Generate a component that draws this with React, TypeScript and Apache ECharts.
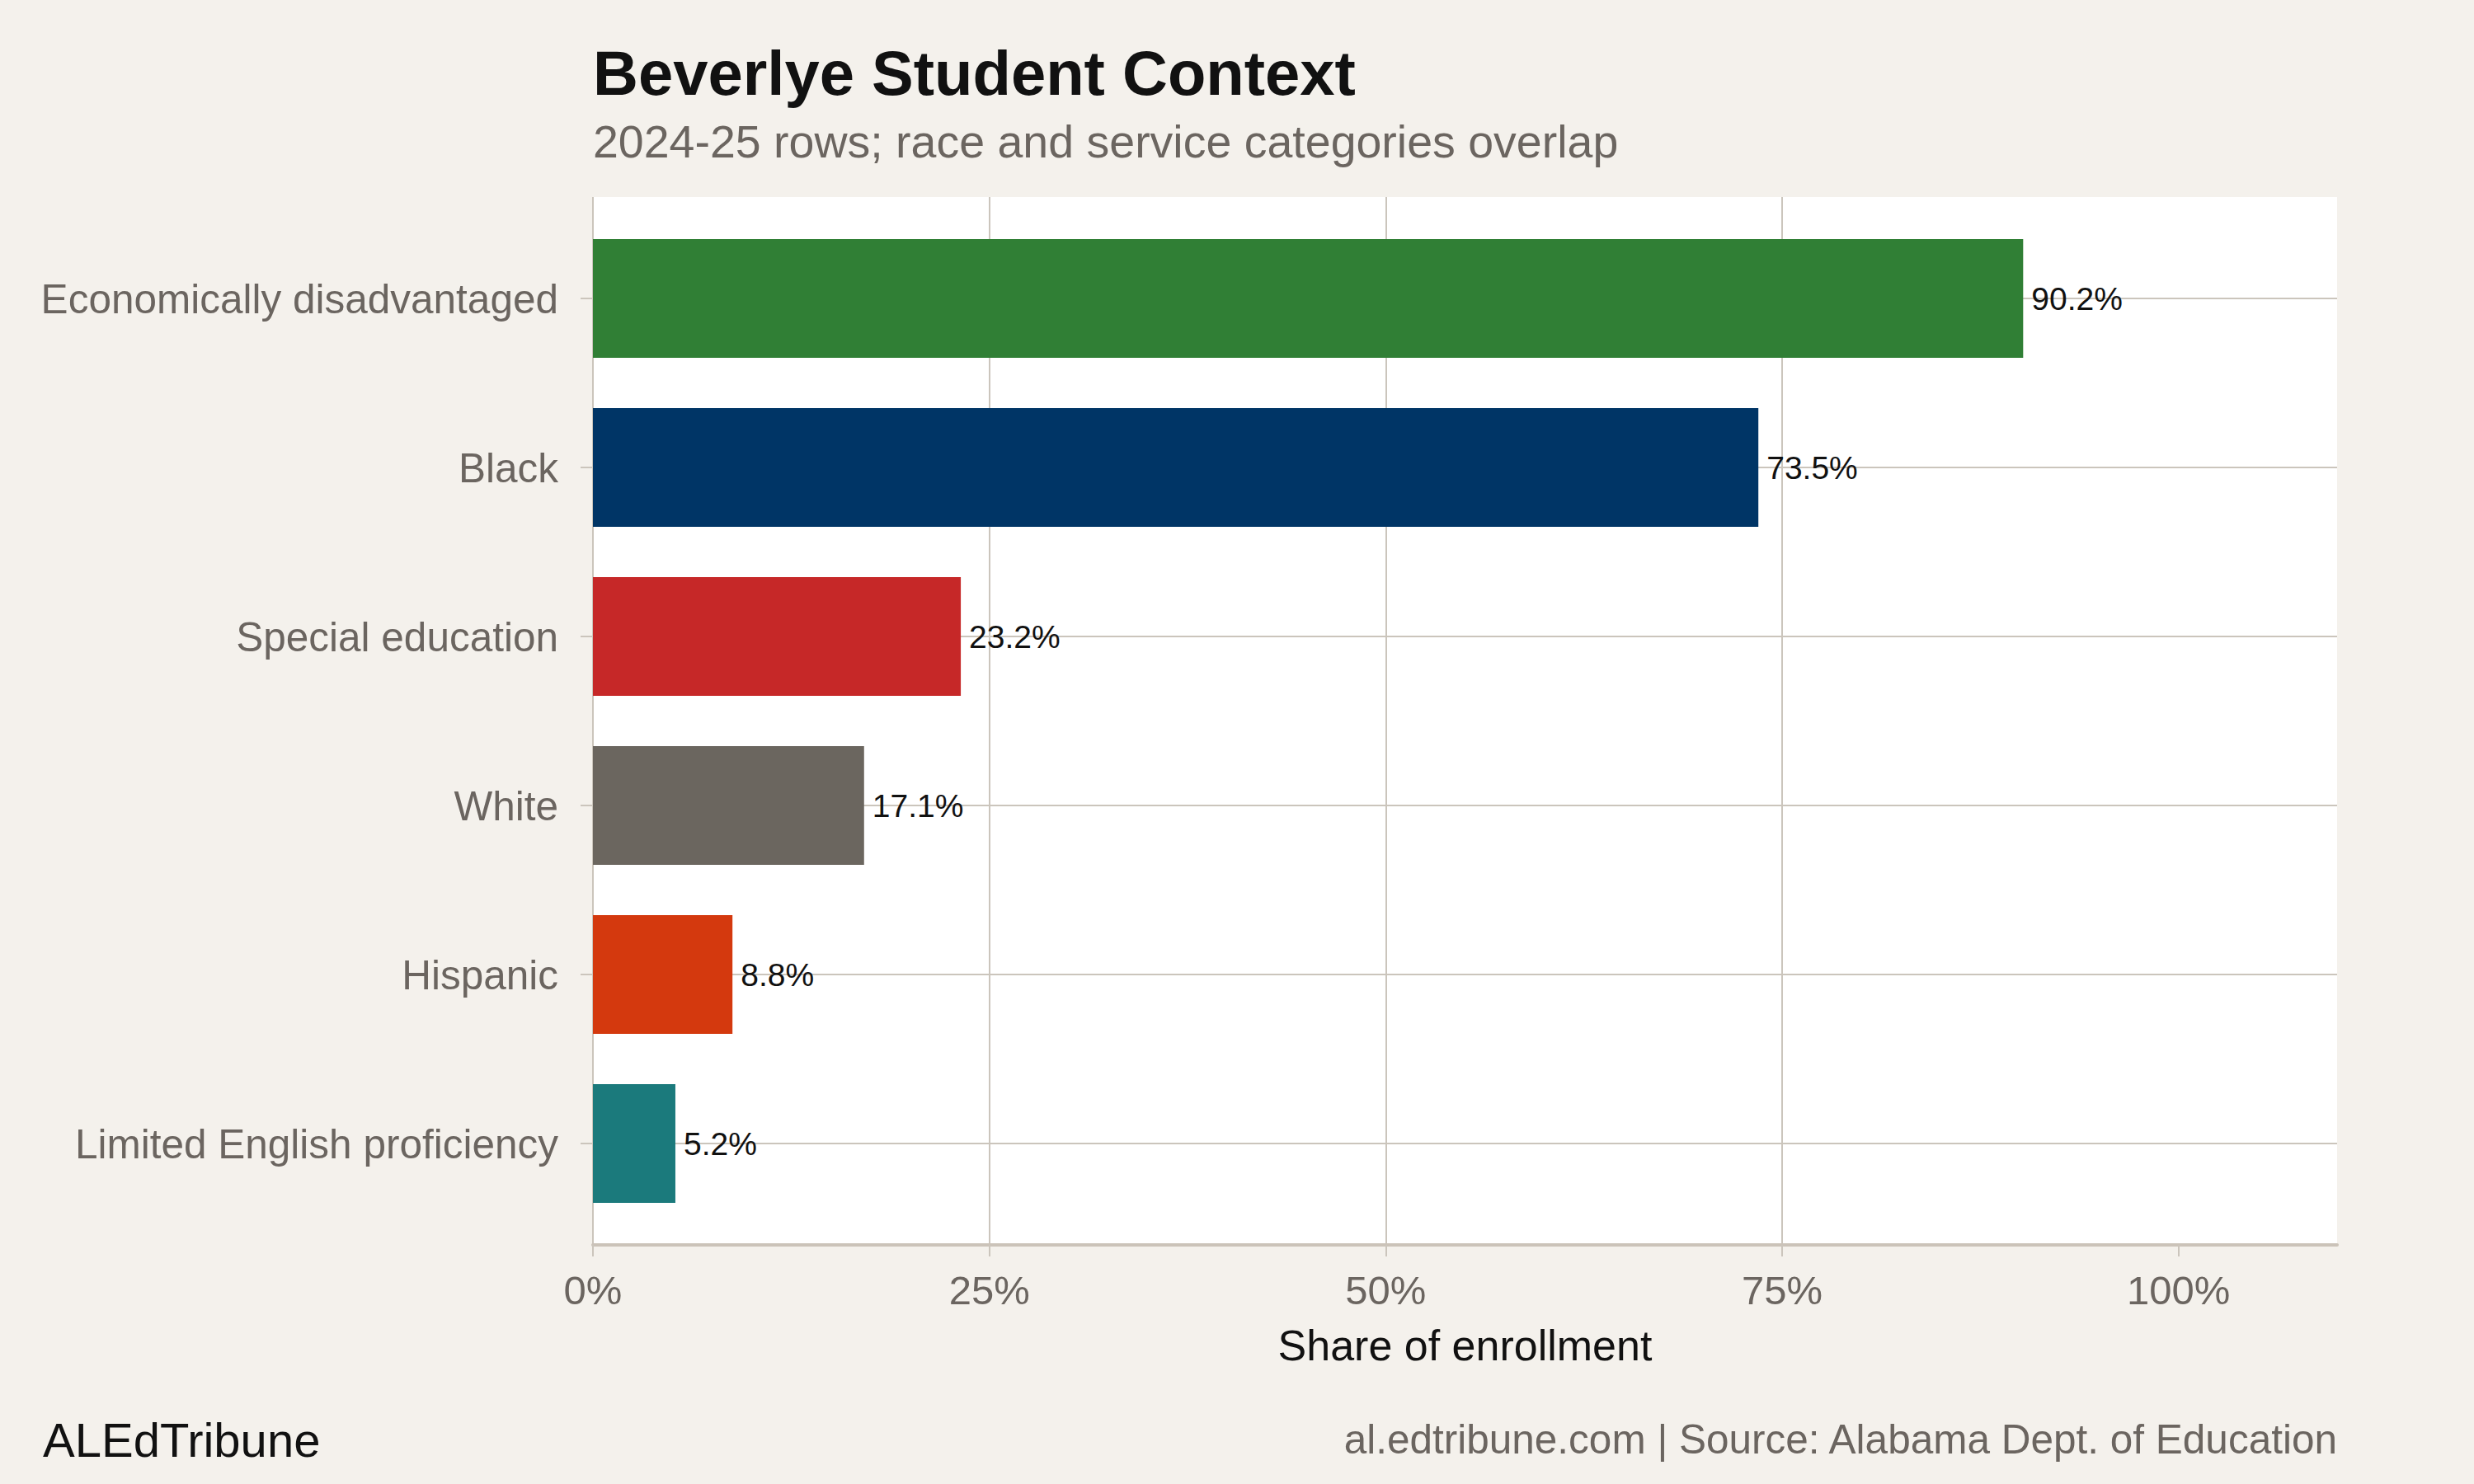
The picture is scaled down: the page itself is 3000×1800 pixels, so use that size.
import React, { useEffect, useRef } from "react";
import * as echarts from "echarts";

// Student groups, top to bottom
const categories = [
  "Economically disadvantaged",
  "Black",
  "Special education",
  "White",
  "Hispanic",
  "Limited English proficiency",
];
// Share of enrollment, percent
const shares = [90.2, 73.5, 23.2, 17.1, 8.8, 5.2];
const barColors = ["#307f35", "#003566", "#c62828", "#6b665f", "#d4390e", "#1b7a7c"];
const xTicks = [0, 25, 50, 75, 100];

const BG = "#f4f1ec";
const GRID = "#cbc5bc";
const MUTED = "#6b6560";
const FONT = "Liberation Sans, Arial, Helvetica, sans-serif";

export default function App() {
  const ref = useRef<HTMLDivElement>(null);

  useEffect(() => {
    document.body.style.margin = "0";
    const chart = echarts.init(ref.current!, null, { renderer: "svg" });

    // panel and inner band geometry (px)
    const left = 719;
    const width = 2115;
    const panelTop = 239;
    const panelHeight = 1271;
    const band = panelHeight / (categories.length - 1 + 1.2);
    const innerTop = panelTop + 0.6 * band;
    const innerHeight = (categories.length - 1) * band;

    chart.setOption({
      animation: false,
      backgroundColor: BG,
      textStyle: { fontFamily: FONT },
      grid: [
        {
          left,
          top: panelTop,
          width,
          height: panelHeight,
          show: true,
          backgroundColor: "#ffffff",
          borderWidth: 0,
          containLabel: false,
        },
        {
          left,
          top: innerTop,
          width,
          height: innerHeight,
          show: false,
          containLabel: false,
        },
      ],
      xAxis: [
        {
          gridIndex: 0,
          type: "value",
          min: 0,
          max: 110,
          interval: 25,
          axisLine: { show: true, lineStyle: { color: "#cbc3b9", width: 4 } },
          axisTick: {
            show: true,
            length: 14,
            customValues: xTicks,
            lineStyle: { color: GRID, width: 2 },
          },
          axisLabel: {
            customValues: xTicks,
            formatter: (v: number) => `${v}%`,
            fontSize: 49,
            color: MUTED,
            fontFamily: FONT,
            margin: 30,
          },
          splitLine: {
            show: true,
            showMaxLine: false,
            lineStyle: { color: GRID, width: 2 },
          },
        },
        {
          gridIndex: 1,
          type: "value",
          min: 0,
          max: 110,
          show: false,
        },
      ],
      yAxis: [
        { gridIndex: 0, type: "value", show: false },
        {
          gridIndex: 1,
          type: "category",
          data: categories,
          inverse: true,
          boundaryGap: false,
          axisLine: { show: false },
          axisTick: {
            show: true,
            length: 15,
            interval: 0,
            lineStyle: { color: GRID, width: 2 },
          },
          axisLabel: {
            interval: 0,
            fontSize: 49.5,
            color: MUTED,
            fontFamily: FONT,
            margin: 42,
          },
          splitLine: { show: true, interval: 0, lineStyle: { color: GRID, width: 2 } },
        },
      ],
      series: [
        {
          type: "bar",
          xAxisIndex: 1,
          yAxisIndex: 1,
          barWidth: Math.round(band * 0.7),
          clip: false,
          data: shares.map((v, i) => ({ value: v, itemStyle: { color: barColors[i] } })),
          label: {
            show: true,
            position: "right",
            distance: 10,
            formatter: (p: any) => `${Number(p.value).toFixed(1)}%`,
            fontSize: 39,
            color: "#111111",
            fontFamily: FONT,
          },
        },
      ],
      graphic: [
        {
          type: "text",
          left: 719,
          top: 50,
          style: {
            text: "Beverlye Student Context",
            fontSize: 76,
            fontWeight: "bold",
            fill: "#111111",
            fontFamily: FONT,
          },
        },
        {
          type: "text",
          left: 719,
          top: 144,
          style: {
            text: "2024-25 rows; race and service categories overlap",
            fontSize: 55.5,
            fill: MUTED,
            fontFamily: FONT,
          },
        },
        {
          type: "text",
          x: left + width / 2,
          y: 1632,
          style: {
            text: "Share of enrollment",
            fontSize: 52,
            fill: "#111111",
            align: "center",
            verticalAlign: "middle",
            fontFamily: FONT,
          },
        },
        {
          type: "text",
          x: 52,
          y: 1746,
          style: {
            text: "ALEdTribune",
            fontSize: 58,
            fill: "#111111",
            verticalAlign: "middle",
            fontFamily: FONT,
          },
        },
        {
          type: "text",
          x: 2834,
          y: 1745,
          style: {
            text: "al.edtribune.com | Source: Alabama Dept. of Education",
            fontSize: 49.5,
            fill: MUTED,
            align: "right",
            verticalAlign: "middle",
            fontFamily: FONT,
          },
        },
      ],
    });

    return () => chart.dispose();
  }, []);

  return <div ref={ref} style={{ width: 3000, height: 1800 }} />;
}
